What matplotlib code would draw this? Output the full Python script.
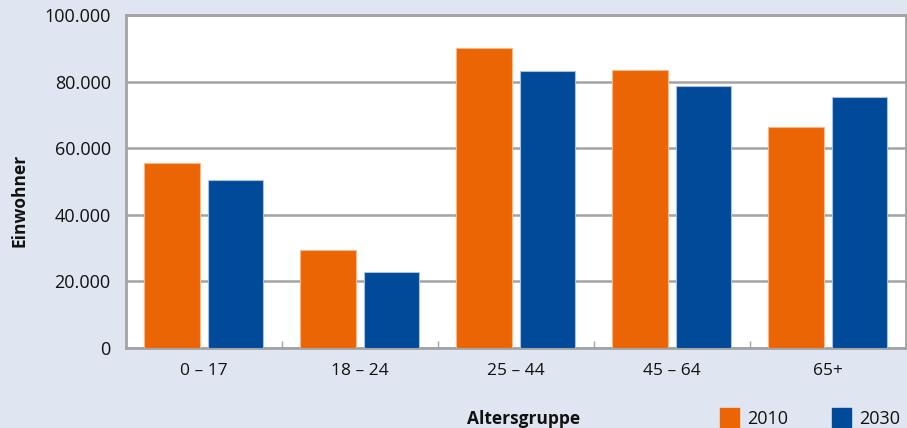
import matplotlib
matplotlib.use("Agg")
import matplotlib.pyplot as plt
from matplotlib.patches import Rectangle
import numpy as np

categories = ["0 – 17", "18 – 24", "25 – 44", "45 – 64", "65+"]
values_2010 = [55600, 29400, 90100, 83500, 66400]
values_2030 = [50500, 22800, 83200, 78700, 75400]
series_labels = ["2010", "2030"]
yticks = [0, 20000, 40000, 60000, 80000, 100000]
ytick_labels = ["0", "20.000", "40.000", "60.000", "80.000", "100.000"]

bg = "#dfe6f1"
orange = "#ec6504"
blue = "#004a99"
grey = "#a3a3a3"

plt.rcParams['font.family'] = ['Open Sans', 'DejaVu Sans']

fig = plt.figure(figsize=(9.07, 4.28), dpi=100, facecolor=bg)
ax = fig.add_axes([126/907, 1-348/428, 780/907, 333/428])
ax.set_facecolor("white")

x = np.arange(len(categories))
w = 0.355
ax.bar(x - 0.205, values_2010, w, color=orange, edgecolor="#f6b88a", linewidth=0.8, zorder=3)
ax.bar(x + 0.200, values_2030, w, color=blue, edgecolor="#a9c1de", linewidth=0.8, zorder=3)

ax.set_xlim(-0.5, len(categories) - 0.5)
ax.set_ylim(0, 100000)
ax.set_yticks(yticks)
ax.set_yticklabels(ytick_labels, fontsize=13, color="#111111")
ax.set_xticks(x)
ax.set_xticklabels(categories, fontsize=12.5, color="#111111")
ax.tick_params(axis='x', length=0, pad=11)
ax.tick_params(axis='y', length=0, pad=11)
ax.set_xticks(np.arange(0.5, len(categories) - 0.5, 1), minor=True)
ax.tick_params(axis='x', which='minor', direction='in', length=5, width=1, color=grey)

ax.yaxis.grid(True, color=grey, linewidth=1.8, zorder=1)
for s in ax.spines.values():
    s.set_color(grey)
    s.set_linewidth(2)

fig.text(20/907, 1-200/428, "Einwohner", rotation=90, ha="center", va="center",
         fontsize=12.5, fontweight="bold", color="#111111")
fig.text(524/907, 1-419/428, "Altersgruppe", ha="center", va="center",
         fontsize=12.5, fontweight="bold", color="#111111")

for (sx, col, lab) in [(720, orange, series_labels[0]), (832, blue, series_labels[1])]:
    fig.patches.append(Rectangle((sx/907, 1-427/428), 19/907, 19/428,
                                 transform=fig.transFigure, color=col, figure=fig))
    fig.text((sx+27)/907, 1-419/428, lab, ha="left", va="center", fontsize=13, color="#111111")

fig.savefig("out.png", dpi=100, facecolor=bg)
